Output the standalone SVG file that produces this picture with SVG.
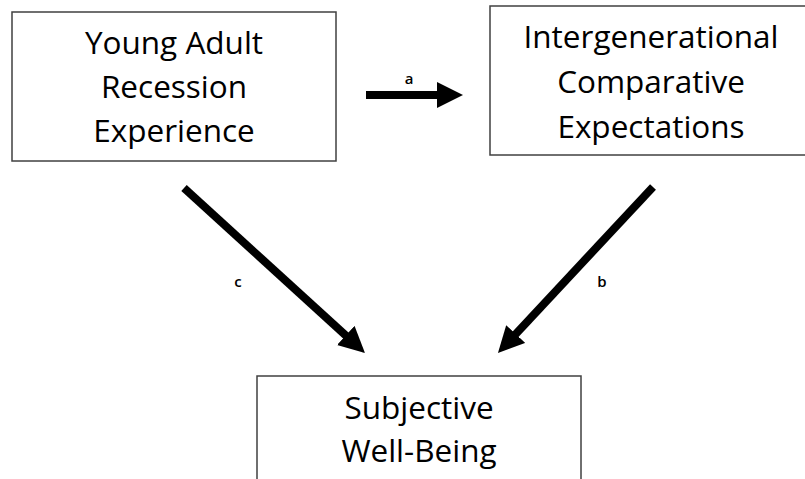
<svg xmlns="http://www.w3.org/2000/svg" width="805" height="479" viewBox="0 0 805 479">
<style>
.box{fill:#fff;stroke:#404040;stroke-width:1.5}
.t{font-family:"Open Sans","Liberation Sans",sans-serif;font-size:31.5px;fill:#000;text-anchor:middle}
.lbl{font-family:"Open Sans","Liberation Sans",sans-serif;font-size:15px;font-weight:600;fill:#000;text-anchor:middle}
.arr{stroke:#000;stroke-width:8;fill:none;marker-end:url(#head)}
</style>
<defs>
<marker id="head" viewBox="0 0 26 26" refX="6" refY="13" markerWidth="26" markerHeight="26" markerUnits="userSpaceOnUse" orient="auto">
<path d="M0,0 L26,13 L0,26 z" fill="#000"/>
</marker>
</defs>
<rect width="805" height="479" fill="#fff"/>
<g id="node-young">
<rect class="box" x="12" y="12" width="324" height="149"/>
<text class="t" x="174" y="54">Young Adult</text>
<text class="t" x="174" y="98">Recession</text>
<text class="t" x="174" y="142">Experience</text>
</g>
<g id="node-inter">
<rect class="box" x="490" y="6" width="330" height="149"/>
<text class="t" x="651" y="48">Intergenerational</text>
<text class="t" x="651" y="93">Comparative</text>
<text class="t" x="651" y="138">Expectations</text>
</g>
<g id="node-swb">
<rect class="box" x="257" y="376" width="324" height="130"/>
<text class="t" x="419" y="419">Subjective</text>
<text class="t" x="419" y="462">Well-Being</text>
</g>
<g id="connectors">
<line class="arr" x1="366" y1="95" x2="443" y2="95"/>
<line class="arr" x1="184" y1="188" x2="350.2" y2="339.5"/>
<line class="arr" x1="653" y1="187" x2="511.6" y2="338.4"/>
<text class="lbl" x="409" y="84">a</text>
<text class="lbl" x="238" y="287">c</text>
<text class="lbl" x="602" y="287">b</text>
</g>
</svg>
